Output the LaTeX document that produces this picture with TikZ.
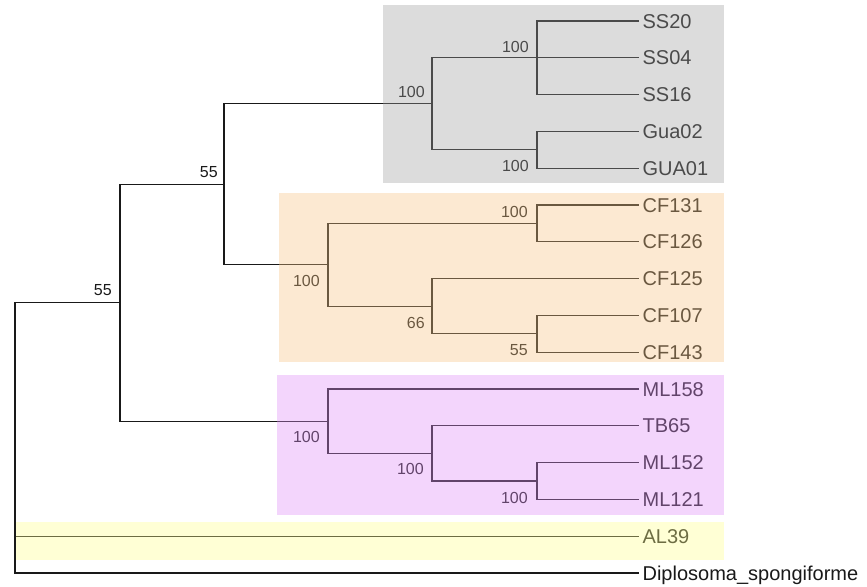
\documentclass[tikz,border=0pt]{standalone}
\usepackage{fontspec}
\setmainfont{Liberation Sans}
\usetikzlibrary{positioning, calc}
\definecolor{branch}{RGB}{25,25,25}
\definecolor{greyclade}{RGB}{160,160,160}
\definecolor{orangeclade}{RGB}{247,196,133}
\definecolor{purpleclade}{RGB}{223,142,247}
\definecolor{yellowclade}{RGB}{255,255,141}
\tikzset{
  taxon/.style={
    anchor=west, inner xsep=2.5pt, inner ysep=0pt,
    text height=10.75pt, text depth=0pt,
    font=\fontsize{15}{17}\selectfont, text=branch
  },
  support/.style={
    anchor=east, inner sep=0pt, text height=8.6pt, text depth=0pt,
    font=\fontsize{12}{14}\selectfont, text=branch
  },
  branch line/.style={draw=branch, line width=1pt},
  clade/.style={draw=none, fill opacity=0.37},
}

\begin{document}
\begin{tikzpicture}[x=0.75pt, y=-0.75pt]
  \useasboundingbox (0,0) rectangle (867,586);

  % taxa
  \node[taxon] (ss20)  at (639,21)    {SS20};
  \node[taxon] (ss04)  at (639,57.8)  {SS04};
  \node[taxon] (ss16)  at (639,94.6)  {SS16};
  \node[taxon] (gua02) at (639,131.4) {Gua02};
  \node[taxon] (gua01) at (639,168.2) {GUA01};
  \node[taxon] (cf131) at (639,205)   {CF131};
  \node[taxon] (cf126) at (639,241.8) {CF126};
  \node[taxon] (cf125) at (639,278.6) {CF125};
  \node[taxon] (cf107) at (639,315.4) {CF107};
  \node[taxon] (cf143) at (639,352.2) {CF143};
  \node[taxon] (ml158) at (639,389)   {ML158};
  \node[taxon] (tb65)  at (639,425.8) {TB65};
  \node[taxon] (ml152) at (639,462.6) {ML152};
  \node[taxon] (ml121) at (639,499.4) {ML121};
  \node[taxon] (al39)  at (639,536.2) {AL39};
  \node[taxon] (dip)   at (639,573)   {Diplosoma\_spongiforme};

  % internal nodes
  \coordinate (root) at (15,438);
  \coordinate (nA)   at (120,302.8);
  \coordinate (nB)   at (224,184.4);
  \coordinate (nG)   at (432,103.8);
  \coordinate (nS)   at (537,57.8);
  \coordinate (nU)   at (537,149.8);
  \coordinate (nO)   at (328,264.8);
  \coordinate (nO1)  at (537,223.4);
  \coordinate (nO2)  at (432,306.2);
  \coordinate (nO3)  at (537,333.8);
  \coordinate (nP)   at (328,421.2);
  \coordinate (nP2)  at (432,453.4);
  \coordinate (nP3)  at (537,481);

  % branches
  \path[branch line]
    (root) |- (nA)   (root) |- (al39)  (root) |- (dip)
    (nA) |- (nB)     (nA) |- (nP)
    (nB) |- (nG)     (nB) |- (nO)
    (nG) |- (nS)     (nG) |- (nU)
    (nS) |- (ss20)   (nS) |- (ss04)    (nS) |- (ss16)
    (nU) |- (gua02)  (nU) |- (gua01)
    (nO) |- (nO1)    (nO) |- (nO2)
    (nO1) |- (cf131) (nO1) |- (cf126)
    (nO2) |- (cf125) (nO2) |- (nO3)
    (nO3) |- (cf107) (nO3) |- (cf143)
    (nP) |- (ml158)  (nP) |- (nP2)
    (nP2) |- (tb65)  (nP2) |- (nP3)
    (nP3) |- (ml152) (nP3) |- (ml121);

  % bootstrap values
  \node[support] (bA)  at (112,290) {55};
  \node[support] (bB)  at (218,172) {55};
  \node[support] (bG)  at (425,92)  {100};
  \node[support] (bS)  at (529,47)  {100};
  \node[support] (bU)  at (529,166) {100};
  \node[support] (bO)  at (320,281) {100};
  \node[support] (bO1) at (528,212) {100};
  \node[support] (bO2) at (425,323) {66};
  \node[support] (bO3) at (528,350) {55};
  \node[support] (bP)  at (320,437) {100};
  \node[support] (bP2) at (424,469) {100};
  \node[support] (bP3) at (528,498) {100};

  % clade shading
  \fill[clade, greyclade]   (383,5)   rectangle (724,183);
  \fill[clade, orangeclade] (279,193) rectangle (724,362);
  \fill[clade, purpleclade] (277,375) rectangle (724,515);
  \fill[clade, yellowclade] (16,522)  rectangle (724,560);
\end{tikzpicture}
\end{document}
